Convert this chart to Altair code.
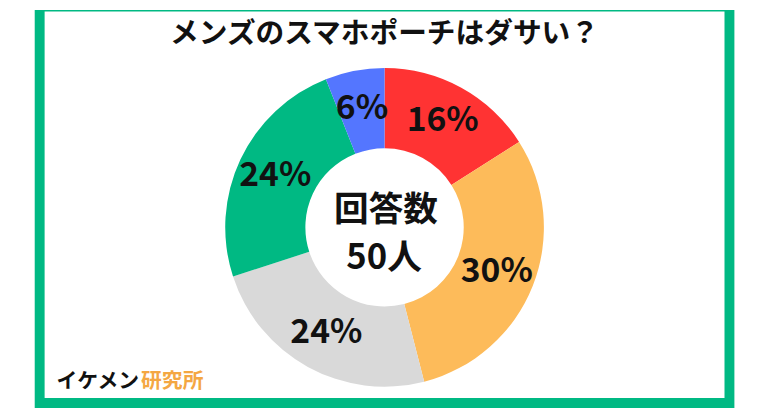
import altair as alt
import pandas as pd

# Data
categories = ["A", "B", "C", "D", "E"]
values = [16, 30, 24, 24, 6]
labels = ["16%", "30%", "24%", "24%", "6%"]
colors = ["#FF3333", "#FDBB5A", "#D9D9D9", "#00B983", "#5476FF"]
title_text = "メンズのスマホポーチはダサい？"
center_line1 = "回答数"
center_line2 = "50人"
brand_black = "イケメン"
brand_orange = "研究所"

df = pd.DataFrame({"cat": categories, "value": values, "label": labels,
                   "idx": list(range(len(values)))})

FONT = "Noto Sans CJK JP"
CX, CY = 380.5, 219.5
one = alt.Data(values=[{}])

frame_outer = alt.Chart(one).mark_rect(color="#00B983").encode(
    x=alt.value(27), x2=alt.value(734), y=alt.value(0), y2=alt.value(402))
frame_inner = alt.Chart(one).mark_rect(color="white").encode(
    x=alt.value(37), x2=alt.value(724), y=alt.value(1.5), y2=alt.value(392))

base = alt.Chart(df).encode(
    theta=alt.Theta("value:Q", stack=True),
    order=alt.Order("idx:Q"),
)

arcs = base.mark_arc(outerRadius=161, innerRadius=80, stroke=None).encode(
    color=alt.Color("cat:N", scale=alt.Scale(domain=categories, range=colors), legend=None),
    x=alt.value(CX), y=alt.value(CY),
)

pct = base.mark_text(radius=122, font=FONT, fontWeight="bold", fontSize=34,
                     color="#111111", align="center", baseline="middle").encode(
    text="label:N", x=alt.value(CX), y=alt.value(CY),
)

def txt(s, x, y, size, color="#111111", align="center"):
    return alt.Chart(one).mark_text(font=FONT, fontWeight="bold", fontSize=size,
                                    color=color, align=align, baseline="middle").encode(
        x=alt.value(x), y=alt.value(y), text=alt.value(s))

title = txt(title_text, 380.5, 24, 29)
c1 = txt(center_line1, 382, 202, 35)
c2 = txt(center_line2, 380, 251, 35)
b1 = txt(brand_black, 49, 376, 21, align="left")
b2 = txt(brand_orange, 134.5, 376, 21, color="#F4A742", align="left")

chart = alt.layer(frame_outer, frame_inner, arcs, pct, title, c1, c2, b1, b2).properties(
    width=772, height=402, padding=0,
    autosize=alt.AutoSizeParams(type="none"),
    background="white",
).configure_view(stroke=None)

chart.save("out.html", embed_options={"renderer": "svg", "actions": False})
